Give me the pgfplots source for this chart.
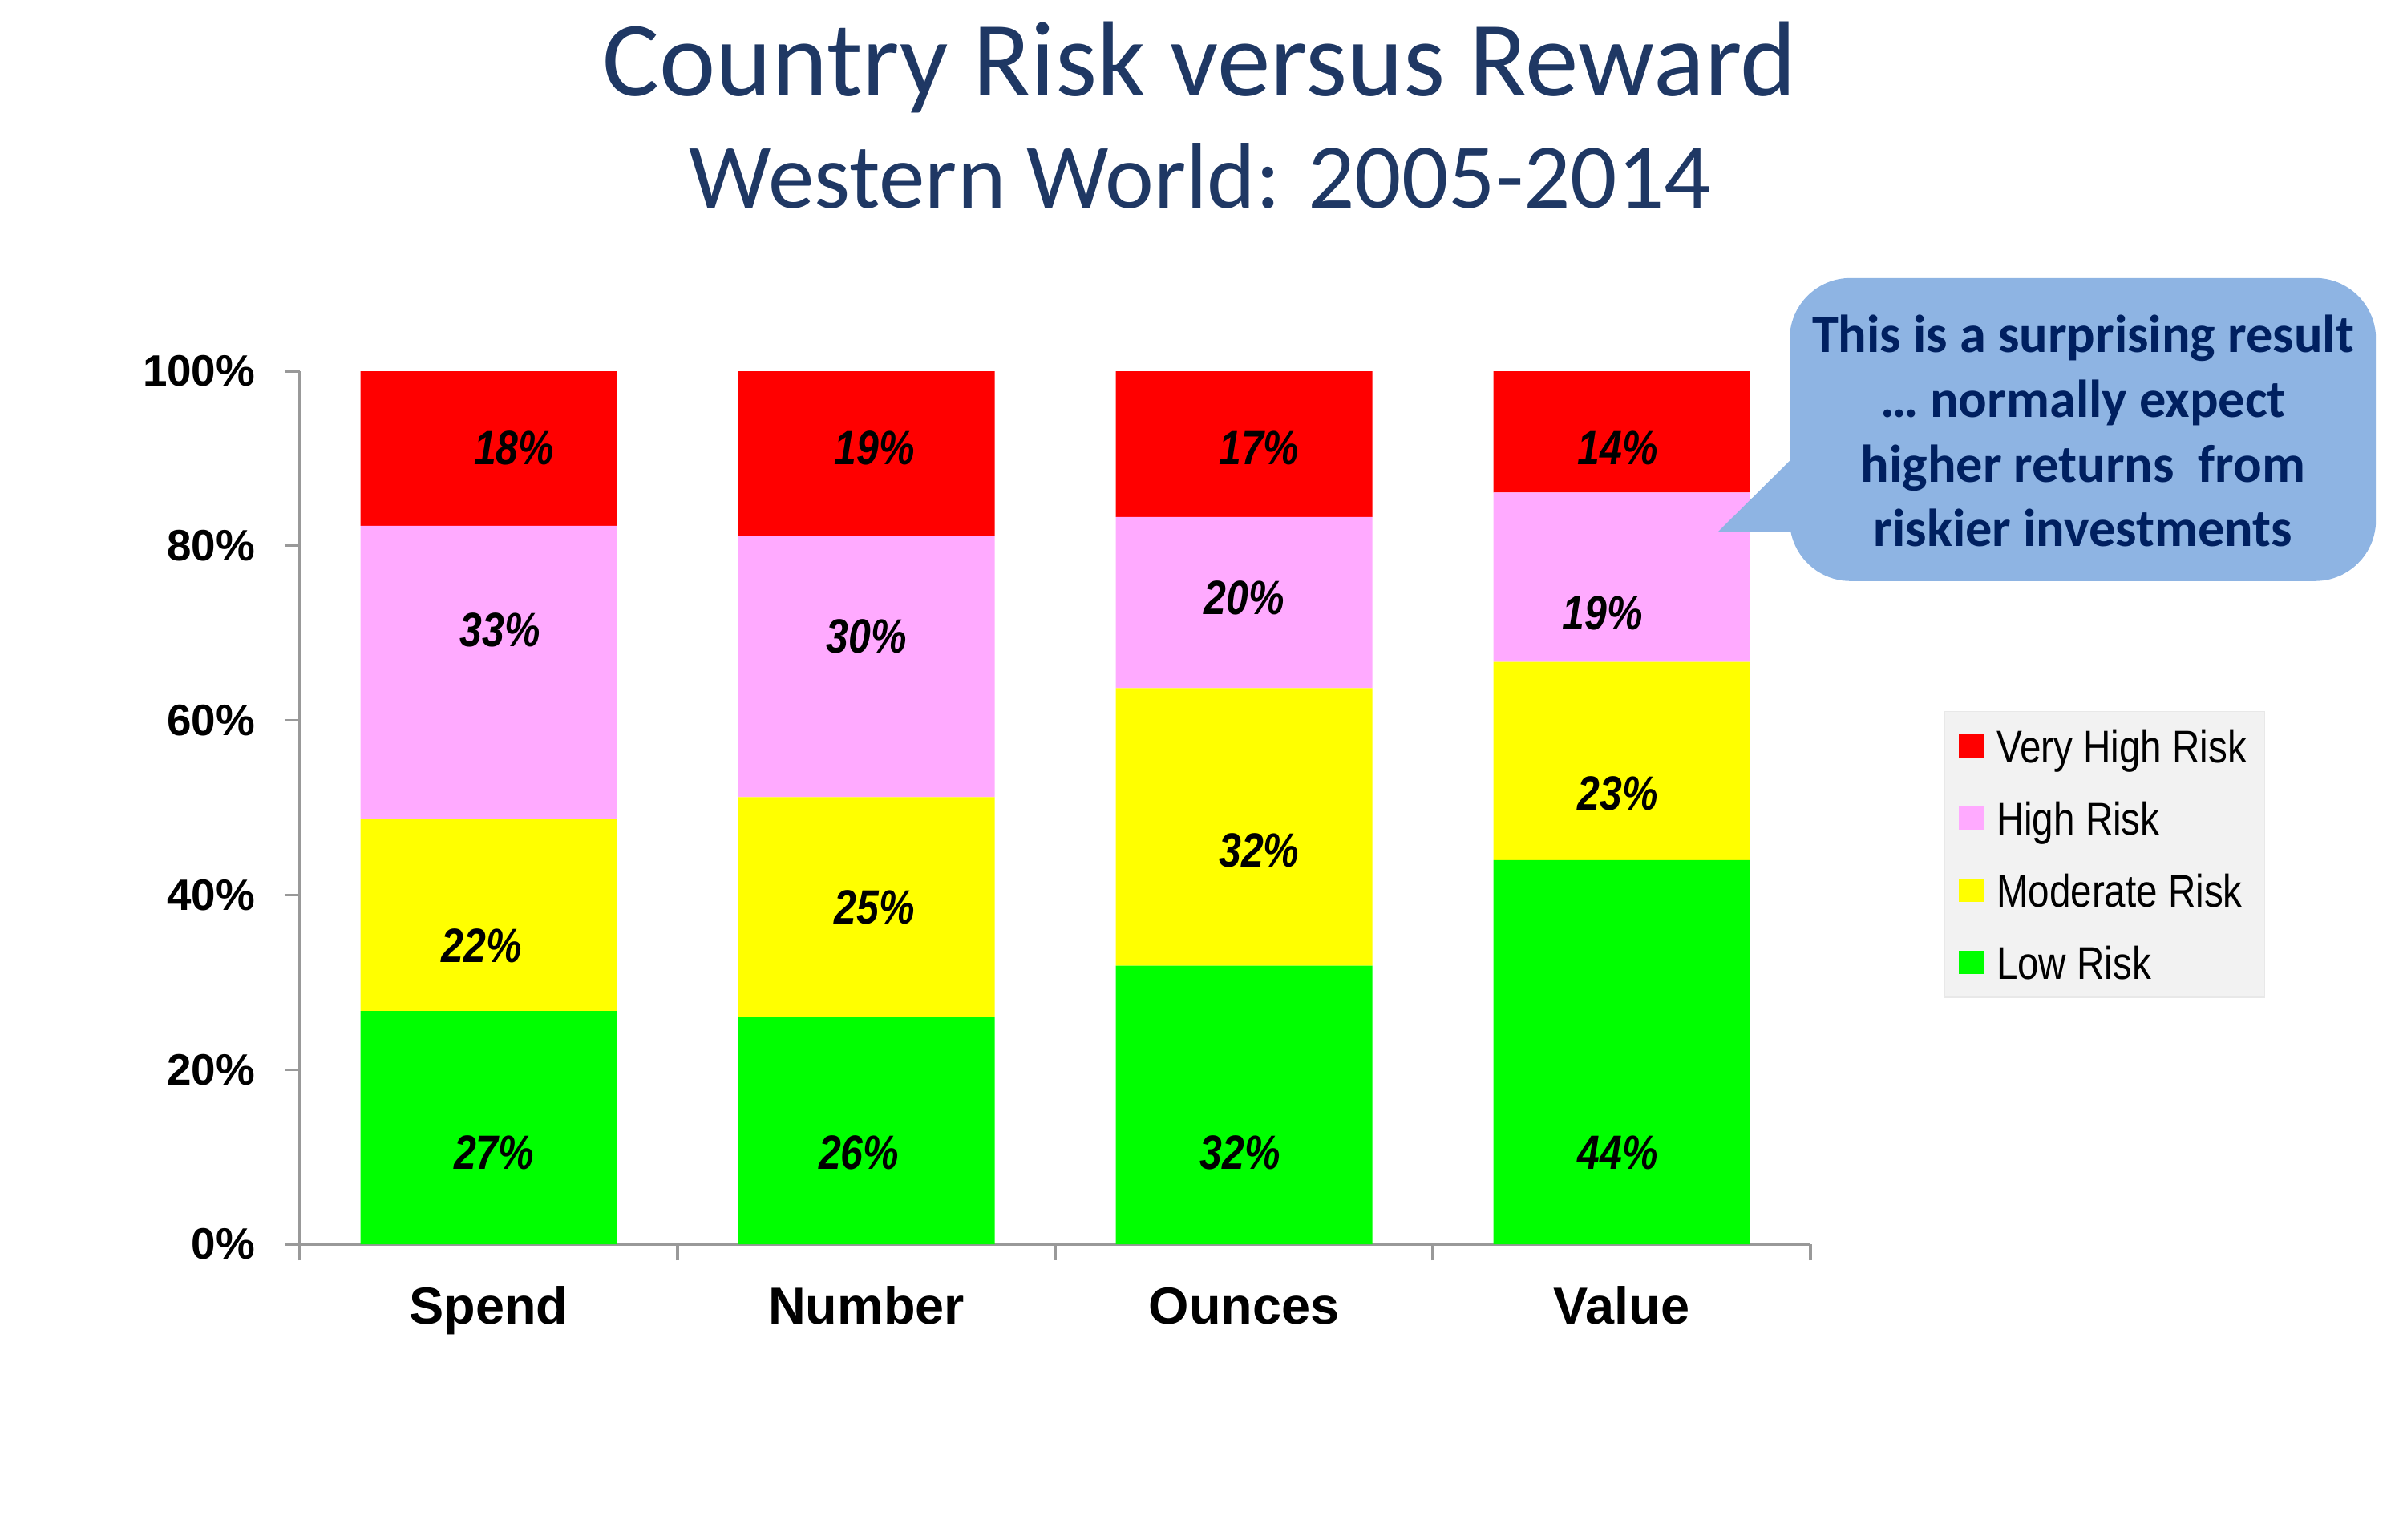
\documentclass[border=0pt]{standalone}
\usepackage{pgfplots}
\pgfplotsset{compat=1.18}
\usepackage{pgfplotstable}
\usepackage{graphicx}
\usepackage{fontspec}
\setmainfont{Liberation Sans}
\newfontfamily\calibri{Carlito}
\definecolor{vhred}{RGB}{255,0,0}
\definecolor{hpink}{RGB}{255,170,255}
\definecolor{myellow}{RGB}{255,255,0}
\definecolor{lgreen}{RGB}{0,255,0}
\definecolor{titleblue}{RGB}{31,56,100}
\definecolor{callfill}{RGB}{142,180,227}
\definecolor{calltext}{RGB}{0,32,96}

\pgfplotstableread{
x low mod high vhigh
0 26.7 22.0 33.6 17.7
1 26.0 25.2 29.9 18.9
2 31.9 31.8 19.6 16.7
3 44.0 22.7 19.4 13.9
}\datatable

% positions of the value labels (as placed in the chart) and their text
\pgfplotstableread{
x y lab
0.067 91.2 18
0.030 70.4 33
-0.018 34.2 22
0.014 10.5 27
1.022 91.2 19
1.000 69.6 30
1.022 38.6 25
0.980 10.5 26
2.040 91.2 17
2.000 74.0 20
2.040 45.1 32
1.990 10.5 32
2.990 91.2 14
2.950 72.3 19
2.990 51.6 23
2.990 10.5 44
}\labeltable

\begin{document}
\begin{tikzpicture}[x=1pt,y=1pt]
\path (0,0) rectangle (749.25,480);
% titles
\node[font=\calibri\fontsize{33.3}{40}\selectfont, text=titleblue, anchor=base, inner sep=0pt] at (374,450.2) {Country Risk versus Reward};
\node[font=\calibri\fontsize{28.8}{34}\selectfont, text=titleblue, anchor=base, inner sep=0pt] at (374.2,415.2) {Western World: 2005-2014};
\begin{axis}[
  at={(93.5pt,92pt)}, anchor=south west,
  scale only axis, width=471pt, height=272.25pt,
  ybar stacked, bar width=80pt,
  xmin=-0.5, xmax=3.5, ymin=0, ymax=100,
  enlargelimits=false, clip=false,
  axis x line*=bottom, axis y line*=left,
  axis line style={draw=black!40, line width=0.8pt},
  xtick={0,1,2,3},
  xticklabels={Spend,Number,Ounces,Value},
  major x tick style={draw=none},
  minor xtick={-0.5,0.5,1.5,2.5,3.5},
  minor x tick style={draw=black!40, line width=0.8pt},
  minor tick length=5pt,
  ytick={0,20,40,60,80,100},
  yticklabels={0\%,20\%,40\%,60\%,80\%,100\%},
  major y tick style={draw=black!40, line width=0.8pt},
  major tick length=4.75pt,
  tick align=outside,
  xticklabel style={font=\bfseries\fontsize{16.2}{18}\selectfont, anchor=base, inner sep=0pt, yshift=-20.2pt},
  yticklabel style={font=\bfseries\fontsize{13.7}{15}\selectfont, anchor=east, inner sep=0pt, xshift=-9pt},
  legend style={at={(1.0881,0.611)}, anchor=north west, fill=black!5, draw=black!9,
    font=\fontsize{11.9}{13}\selectfont, row sep=10.2pt, inner xsep=4.6pt, inner ysep=4.65pt,
    nodes={inner sep=1pt, text height=10.3pt, text depth=0pt},
    /tikz/every odd column/.append style={column sep=2.7pt}},
  legend cell align=left,
  legend image code/.code={\fill[#1, draw=none] (0pt,-3.55pt) rectangle (8pt,3.55pt);},
  reverse legend,
]
\addplot[fill=lgreen, draw=none] table[x=x, y=low] {\datatable};
\addlegendentry{\scalebox{1}[1.2]{Low Risk}}
\addplot[fill=myellow, draw=none] table[x=x, y=mod] {\datatable};
\addlegendentry{\scalebox{1}[1.2]{Moderate Risk}}
\addplot[fill=hpink, draw=none] table[x=x, y=high] {\datatable};
\addlegendentry{\scalebox{1}[1.2]{High Risk}}
\addplot[fill=vhred, draw=none] table[x=x, y=vhigh] {\datatable};
\addlegendentry{\scalebox{1}[1.2]{Very High Risk}}
\end{axis}
% overlay axis for the value labels
\begin{axis}[
  at={(93.5pt,92pt)}, anchor=south west,
  scale only axis, width=471pt, height=272.25pt,
  xmin=-0.5, xmax=3.5, ymin=0, ymax=100,
  enlargelimits=false, clip=false, hide axis,
]
\addplot[only marks, mark=*, mark size=0pt, mark options={draw=none, fill=none},
  point meta=explicit symbolic,
  nodes near coords={\scalebox{1}[1.2]{\pgfplotspointmeta\%}},
  nodes near coords style={font=\bfseries\itshape\fontsize{12.5}{14}\selectfont, text=black, anchor=center, inner sep=0pt}]
  table[x=x, y=y, meta=lab] {\labeltable};
\end{axis}
% callout (drawn over the bars)
\fill[callfill, rounded corners=19pt] (558,298.8) rectangle (740.8,393.3);
\fill[callfill] (535.5,314) -- (572.5,350.6) -- (572.5,314) -- cycle;
\node[font=\calibri\bfseries\fontsize{16.6}{20}\selectfont, text=calltext, anchor=base, inner sep=0pt] at (649.5,370.0) {This is a surprising result};
\node[font=\calibri\bfseries\fontsize{16.6}{20}\selectfont, text=calltext, anchor=base, inner sep=0pt] at (649.5,349.8) {… normally expect};
\node[font=\calibri\bfseries\fontsize{16.6}{20}\selectfont, text=calltext, anchor=base, inner sep=0pt] at (649.5,329.7) {higher returns\ \ from};
\node[font=\calibri\bfseries\fontsize{16.6}{20}\selectfont, text=calltext, anchor=base, inner sep=0pt] at (649.5,309.5) {riskier investments};
\end{tikzpicture}
\end{document}
